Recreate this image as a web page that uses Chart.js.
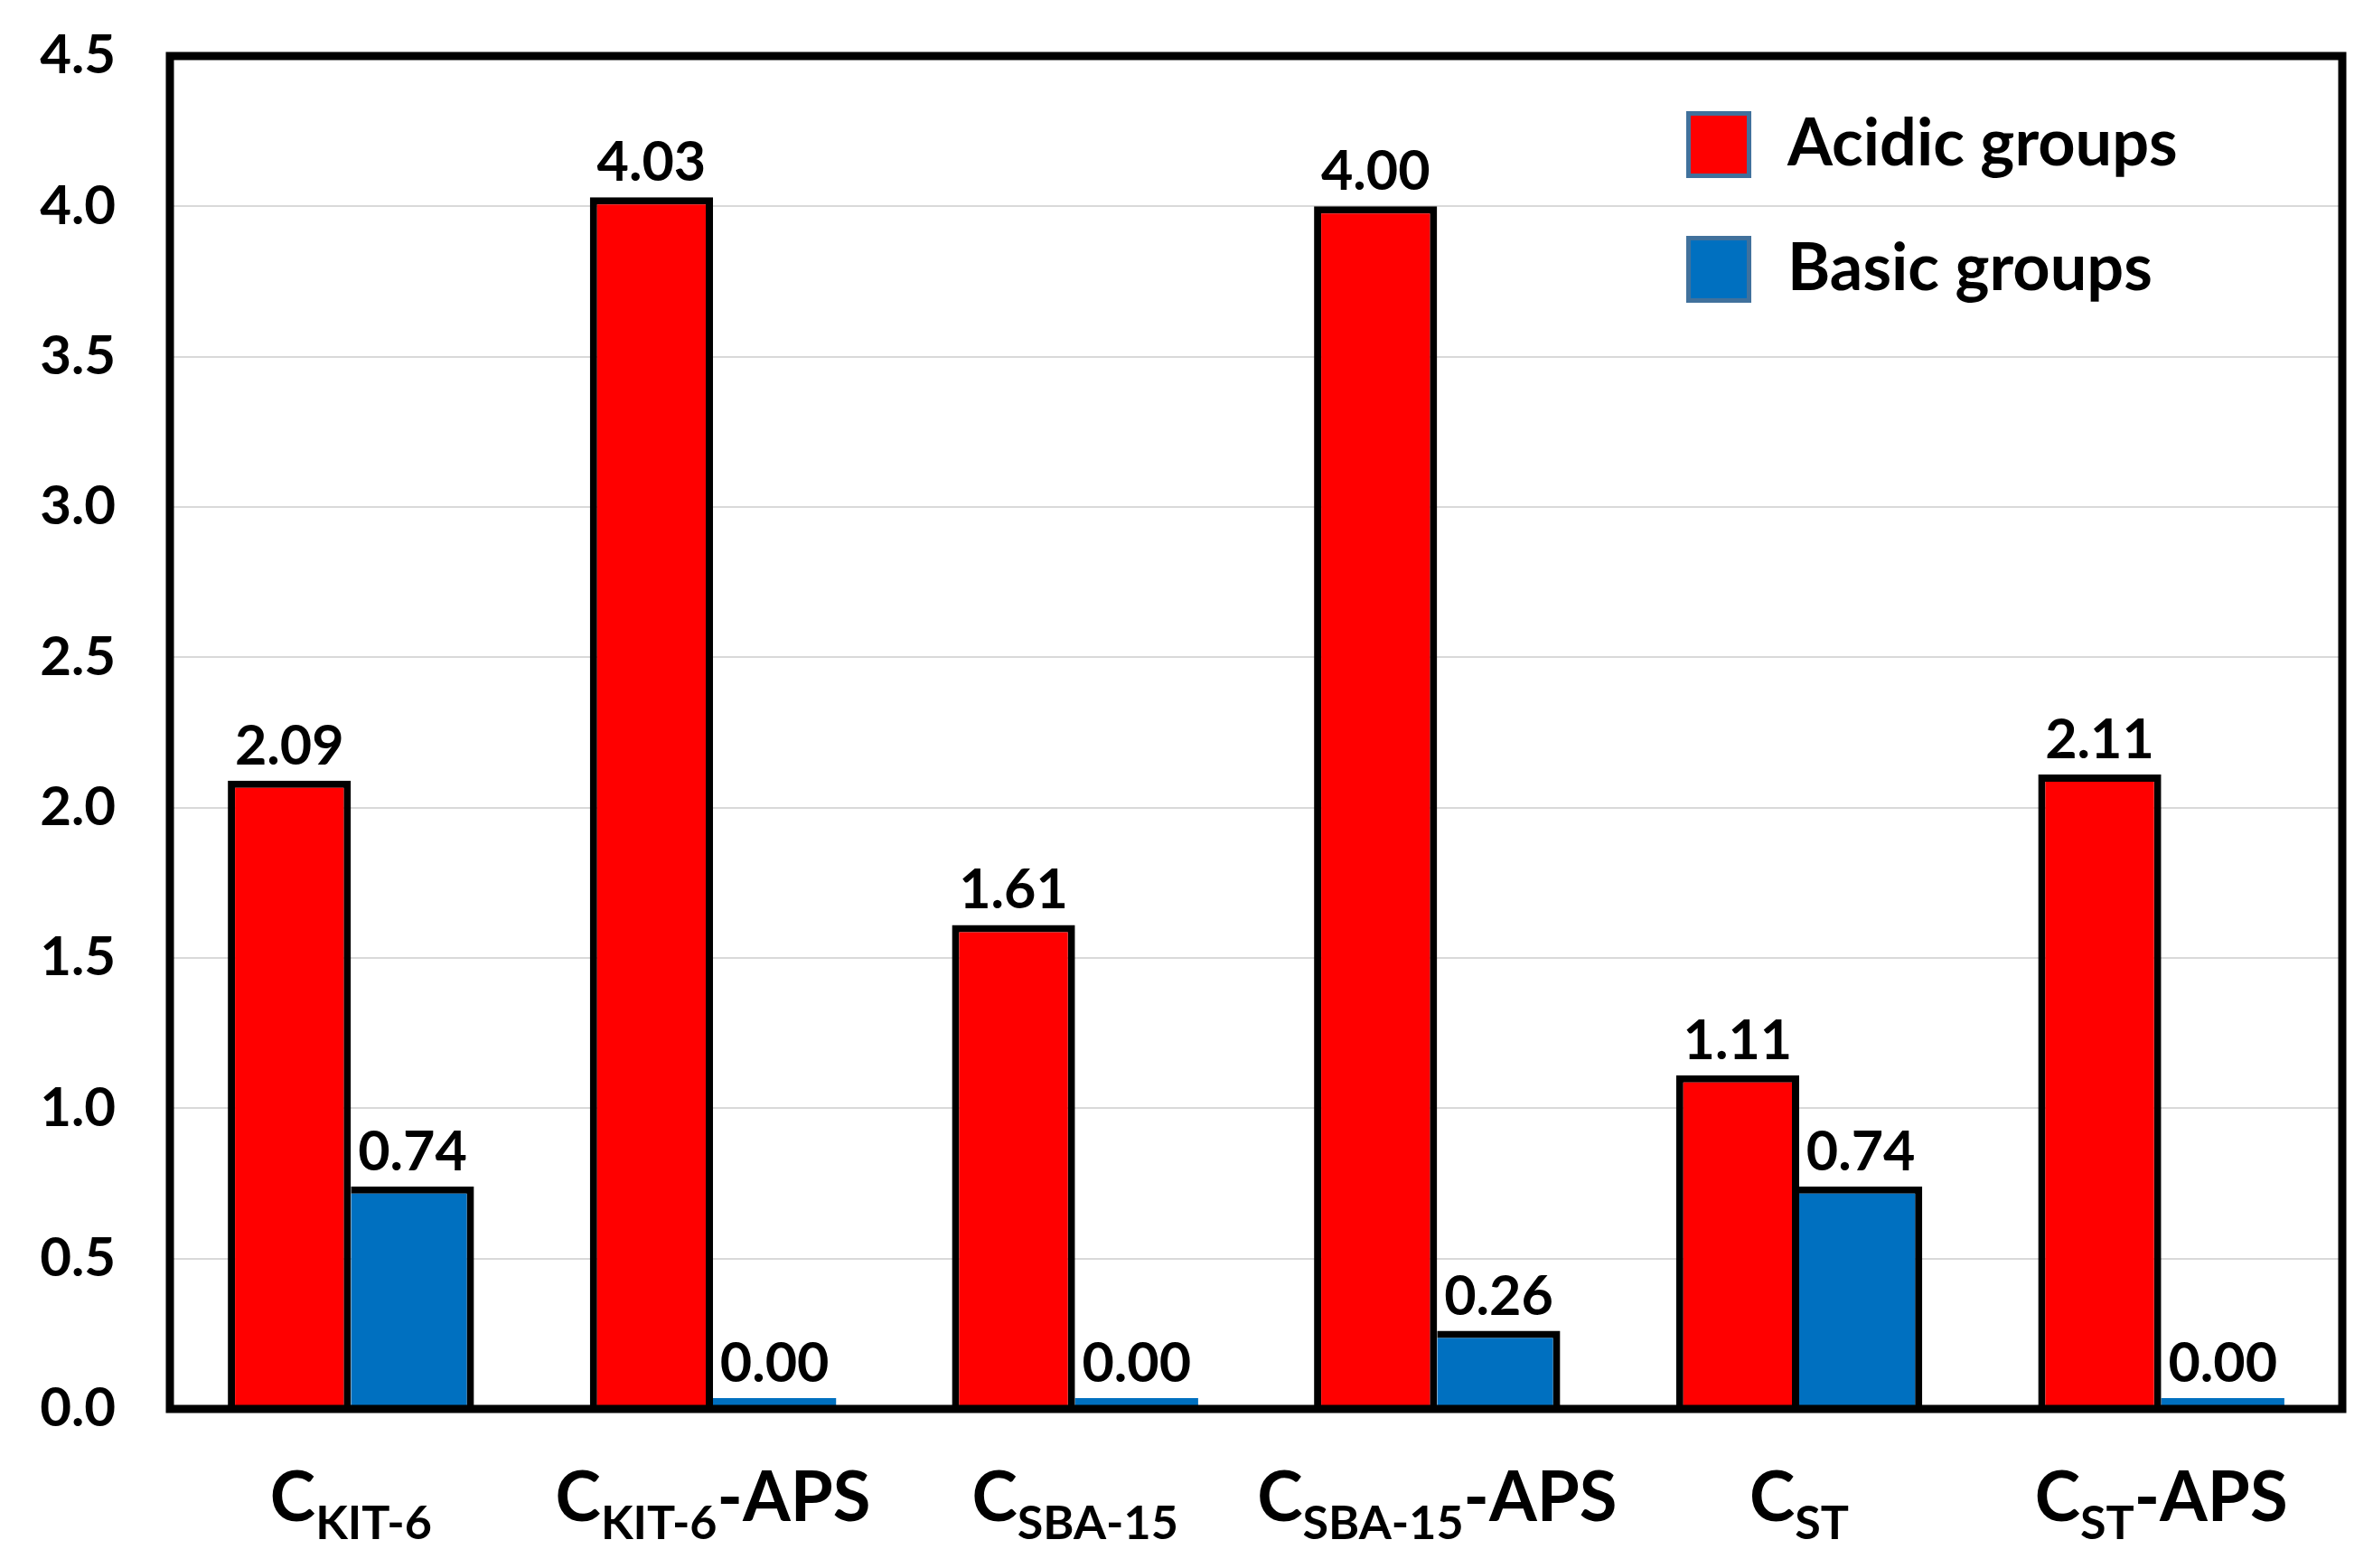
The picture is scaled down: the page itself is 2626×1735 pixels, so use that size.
<!DOCTYPE html>
<html>
<head>
<meta charset="utf-8">
<script src="https://cdn.jsdelivr.net/npm/chart.js@4.4.1/dist/chart.umd.min.js"></script>
<style>
  html, body { margin: 0; padding: 0; background: #ffffff; }
  #wrap { width: 2626px; height: 1735px; position: relative; }
</style>
</head>
<body>
<div id="wrap"><canvas id="c" width="2626" height="1735"></canvas></div>
<script>
// ---- data ----
const categoryMain   = ['C', 'C', 'C', 'C', 'C', 'C'];
const categorySub    = ['KIT-6', 'KIT-6', 'SBA-15', 'SBA-15', 'ST', 'ST'];
const categorySuffix = ['', '-APS', '', '-APS', '', '-APS'];
const categories = categoryMain.map((m, i) => m + categorySub[i] + categorySuffix[i]);

const seriesNames = ['Acidic groups', 'Basic groups'];
const acidic = [2.09, 4.03, 1.61, 4.00, 1.11, 2.11];
const basic  = [0.74, 0.00, 0.00, 0.26, 0.74, 0.00];

const yMin = 0, yMax = 4.5, yStep = 0.5;

// ---- styling ----
const FONT = 'Lato';
const RED = '#FF0000';
const BLUE = '#0070C0';
const BW = 8;

const framePlugin = {
  id: 'frame',
  afterDatasetsDraw(chart) {
    const { ctx, chartArea: a } = chart;
    ctx.save();
    ctx.strokeStyle = '#000';
    ctx.lineWidth = 9;
    ctx.strokeRect(a.left, a.top, a.right - a.left, a.bottom - a.top);
    ctx.restore();
  }
};

const valueLabelPlugin = {
  id: 'valueLabels',
  afterDatasetsDraw(chart) {
    const { ctx } = chart;
    ctx.save();
    ctx.font = `bold 61px ${FONT}`;
    ctx.fillStyle = '#000';
    ctx.textAlign = 'center';
    ctx.textBaseline = 'alphabetic';
    chart.data.datasets.forEach((ds, di) => {
      const meta = chart.getDatasetMeta(di);
      meta.data.forEach((bar, i) => {
        const v = ds.data[i];
        ctx.fillText(v.toFixed(2), bar.x, bar.y - 18);
      });
    });
    ctx.restore();
  }
};

const xLabelPlugin = {
  id: 'xLabels',
  afterDraw(chart) {
    const { ctx, chartArea: a } = chart;
    const xs = chart.scales.x;
    const base = a.bottom + 124;
    ctx.save();
    ctx.fillStyle = '#000';
    ctx.textBaseline = 'alphabetic';
    ctx.textAlign = 'left';
    categoryMain.forEach((m, i) => {
      const cx = xs.getPixelForValue(i);
      ctx.font = `bold 76px ${FONT}`;
      const wM = ctx.measureText(m).width;
      const wX = ctx.measureText(categorySuffix[i]).width;
      ctx.font = `bold 52px ${FONT}`;
      const wS = ctx.measureText(categorySub[i]).width;
      let x = cx - (wM + wS + wX) / 2;
      ctx.font = `bold 76px ${FONT}`;
      ctx.fillText(m, x, base);
      x += wM;
      ctx.font = `bold 52px ${FONT}`;
      ctx.fillText(categorySub[i], x, base + 20);
      x += wS;
      ctx.font = `bold 76px ${FONT}`;
      ctx.fillText(categorySuffix[i], x, base);
    });
    ctx.restore();
  }
};

const legendPlugin = {
  id: 'customLegend',
  afterDraw(chart) {
    const { ctx, chartArea: a } = chart;
    const boxX = a.right - 726;
    const rows = [
      { y: a.top + 98, color: RED },
      { y: a.top + 236, color: BLUE }
    ];
    ctx.save();
    rows.forEach((r, i) => {
      ctx.fillStyle = r.color;
      ctx.fillRect(boxX, r.y - 37, 72, 74);
      ctx.strokeStyle = '#41719C';
      ctx.lineWidth = 5;
      ctx.strokeRect(boxX + 2.5, r.y - 34.5, 67, 69);
      ctx.fillStyle = '#000';
      ctx.font = `bold 72px ${FONT}`;
      ctx.textAlign = 'left';
      ctx.textBaseline = 'middle';
      ctx.fillText(seriesNames[i], boxX + 112, r.y);
    });
    ctx.restore();
  }
};

new Chart(document.getElementById('c'), {
  type: 'bar',
  data: {
    labels: categories,
    datasets: [
      {
        label: seriesNames[0],
        data: acidic,
        backgroundColor: RED,
        borderColor: '#000',
        borderSkipped: false,
        borderWidth: { top: BW, left: BW, right: BW, bottom: 0 },
        categoryPercentage: 0.68,
        barPercentage: 1.0
      },
      {
        label: seriesNames[1],
        data: basic,
        backgroundColor: BLUE,
        borderColor: '#000',
        borderSkipped: false,
        borderWidth: (c) => (c.raw === 0 ? 0 : { top: BW, left: 0, right: BW, bottom: 0 }),
        minBarLength: 12,
        categoryPercentage: 0.68,
        barPercentage: 1.0
      }
    ]
  },
  options: {
    responsive: false,
    devicePixelRatio: 1,
    animation: false,
    layout: { padding: { top: 62, right: 34, left: 0, bottom: 0 } },
    plugins: {
      legend: { display: false },
      tooltip: { enabled: false },
      title: { display: false }
    },
    scales: {
      x: {
        grid: { display: false },
        border: { display: false },
        ticks: { display: false },
        afterFit(s) { s.height = 176; }
      },
      y: {
        min: yMin,
        max: yMax,
        grid: { color: '#d9d9d9', lineWidth: 2, drawTicks: false },
        border: { display: false },
        ticks: {
          stepSize: yStep,
          padding: 60,
          color: '#000',
          font: { family: FONT, weight: 'bold', size: 60 },
          callback: (v) => Number(v).toFixed(1)
        },
        afterFit(s) { s.width = 188; s.paddingTop = 0; s.paddingBottom = 0; }
      }
    }
  },
  plugins: [framePlugin, valueLabelPlugin, xLabelPlugin, legendPlugin]
});
</script>
</body>
</html>
